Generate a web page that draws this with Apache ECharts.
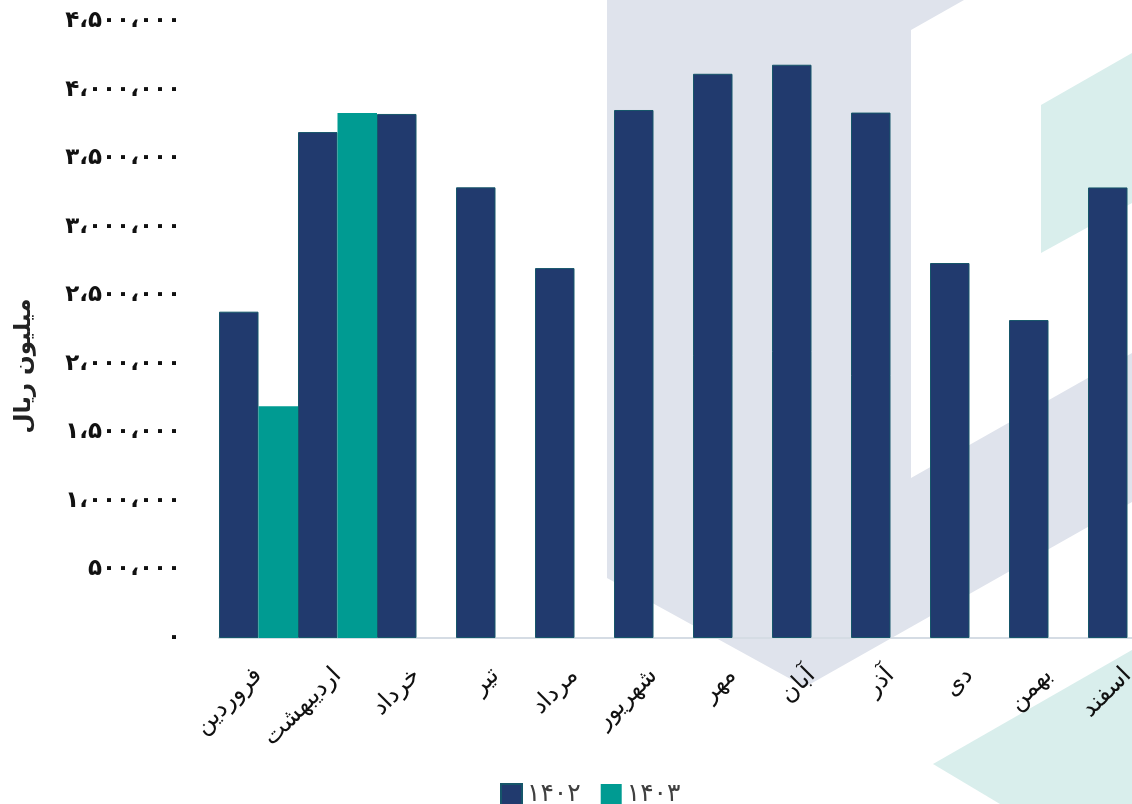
<!DOCTYPE html>
<html>
<head>
<meta charset="utf-8">
<script src="https://cdn.jsdelivr.net/npm/echarts@6/dist/echarts.min.js"></script>
<style>
html,body{margin:0;padding:0;background:#fff;}
#c{width:1132px;height:804px;}
</style>
</head>
<body>
<div id="c"></div>
<script>
const categories = ['فروردین','اردیبهشت','خرداد','تیر','مرداد','شهریور','مهر','آبان','آذر','دی','بهمن','اسفند'];
const series1402 = [2380000, 3690000, 3822000, 3287000, 2698000, 3851000, 4115000, 4181000, 3832000, 2735000, 2319000, 3286000];
const series1403 = [1690000, 3829000, null, null, null, null, null, null, null, null, null, null];
const seriesNames = ['۱۴۰۲', '۱۴۰۳'];
const yTicks = {min: 0, max: 4500000, interval: 500000};
const yAxisName = 'میلیون ریال';

function toFa(n){
  const d = '۰۱۲۳۴۵۶۷۸۹';
  const s = String(Math.round(n)).replace(/\B(?=(\d{3})+(?!\d))/g, '،');
  return s.replace(/\d/g, c => d[+c]);
}

const chart = echarts.init(document.getElementById('c'));
const grey = '#dfe3ec', lteal = '#d9eeec';
chart.setOption({
  animation: false,
  backgroundColor: '#ffffff',
  graphic: [
    {type:'polygon', z:-10, shape:{points:[[607,0],[964,0],[911,30],[911,478],[1132,353],[1132,502],[805,687],[607,578]]}, style:{fill:grey}},
    {type:'polygon', z:-10, shape:{points:[[1041,105],[1132,53],[1132,203],[1041,253]]}, style:{fill:lteal}},
    {type:'polygon', z:-10, shape:{points:[[933,764],[1132,650],[1132,804],[1000,804]]}, style:{fill:lteal}},
    {type:'text', z:10, x:24, y:366, rotation: Math.PI/2,
     style:{text: yAxisName, align:'center', verticalAlign:'middle', fontFamily:'DejaVu Sans', fontWeight:'bold', fontSize:23, fill:'#222'}}
  ],
  grid: {left: 219, width: 948, top: 21, bottom: 166, containLabel: false, outerBoundsMode: 'none'},
  legend: {
    data: seriesNames,
    left: 495, top: 777,
    icon: 'rect', itemWidth: 21, itemHeight: 21, itemGap: 20,
    textStyle: {fontFamily: 'DejaVu Sans', fontSize: 25, color: '#404040'}
  },
  xAxis: {
    type: 'category',
    data: categories,
    axisLine: {show: true, lineStyle: {color: '#d5dce4', width: 2}},
    axisTick: {show: false},
    axisLabel: {interval: 0, rotate: 45, margin: 34, fontFamily: 'DejaVu Sans', fontSize: 24, color: '#111'}
  },
  yAxis: {
    type: 'value',
    min: yTicks.min, max: yTicks.max, interval: yTicks.interval,
    axisLine: {show: false}, axisTick: {show: false},
    splitLine: {show: false},
    axisLabel: {margin: 38, fontFamily: 'DejaVu Sans', fontWeight: 'bold', fontSize: 23, color: '#111', formatter: v => toFa(v)}
  },
  series: [
    {name: seriesNames[0], type: 'bar', data: series1402, barGap: '0%', barCategoryGap: '0%',
     itemStyle: {color: '#213a6e', borderColor: '#16566a', borderWidth: 1}},
    {name: seriesNames[1], type: 'bar', data: series1403, barGap: '0%', barCategoryGap: '0%',
     itemStyle: {color: '#009b92', borderColor: '#009b92', borderWidth: 0}}
  ]
});
</script>
</body>
</html>
